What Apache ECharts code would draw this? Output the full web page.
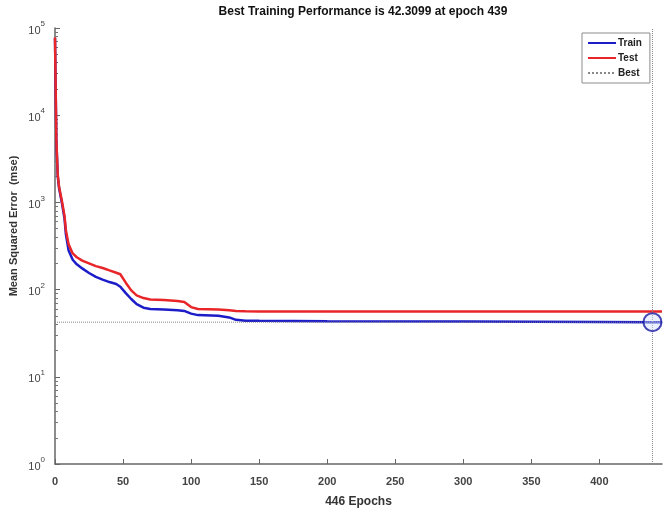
<!DOCTYPE html>
<html lang="en">
<head>
    <meta charset="UTF-8">
    <title>Best Training Performance</title>
    <script src="https://cdn.jsdelivr.net/npm/echarts@6/dist/echarts.min.js"></script>
</head>
<style>
    html,body{
        margin:0;
        padding:0;
        background:#fff;
    }
    #perf{
        width:668px;
        height:513px;
    }
</style>
<body>
<div id="perf"></div>
<script>
    // epochs, with train / test mse at each one
    var epochs   = [0, 1, 2, 3, 5, 7, 8, 10, 13, 16, 20, 25, 30, 35, 40, 45, 48, 52, 56, 60, 65, 70, 80, 90, 95, 100, 105, 120, 128, 133, 140, 150, 200, 300, 400, 439, 446];
    var trainMse = [77000, 5000, 2000, 1450, 1000, 650, 430, 280, 220, 195, 175, 155, 140, 130, 122, 116, 108, 91, 78, 68, 62, 60, 59, 58, 57, 53, 51, 50, 48, 45, 44, 43.8, 43.4, 43, 42.6, 42.31, 42.3];
    var testMse  = [78000, 5200, 2100, 1500, 1050, 700, 480, 330, 260, 235, 215, 200, 186, 177, 166, 156, 150, 120, 98, 86, 80, 77, 76, 74, 72, 63, 60, 59, 58, 57, 56.5, 56, 56, 56, 56, 56, 56];
    var bestEpoch = 439;
    var bestPerf = 42.3099;
    var yTicks = [1, 10, 100, 1000, 10000, 100000];
    var xTicks = [0, 50, 100, 150, 200, 250, 300, 350, 400];

    var font = 'Liberation Sans, Arial, sans-serif';

    function pairs(ys){
        var out = [];
        for (var i = 0; i < epochs.length; i++) {
            out.push([epochs[i], ys[i]]);
        }
        return out;
    }

    // minor ticks 2..9 of each decade
    var minor = [];
    for (var d = 0; d < yTicks.length - 1; d++) {
        for (var k = 2; k <= 9; k++) {
            minor.push(k * yTicks[d]);
        }
    }

    var myChart = echarts.init(document.getElementById('perf'));
    myChart.setOption({
        animation:false,
        title:{
            text:'Best Training Performance is ' + bestPerf + ' at epoch ' + bestEpoch,
            left:358,
            textAlign:'center',
            top:1,
            textStyle:{fontFamily:font, fontSize:12, fontWeight:'bold', color:'#111'}
        },
        grid:{left:55, right:6, top:28, bottom:49},
        legend:{
            data:['Train','Test','Best'],
            orient:'vertical',
            left:582,
            top:33,
            padding:[5,8,5,5],
            itemGap:5,
            itemWidth:28,
            itemHeight:11,
            borderColor:'#8c8c8c',
            borderWidth:1,
            backgroundColor:'#fff',
            align:'left',
            itemStyle:{opacity:0},
            textStyle:{fontFamily:font, fontSize:10, fontWeight:'bold', color:'#222', padding:[0,0,0,-3]}
        },
        graphic:[{
            type:'text',
            x:14,
            y:226,
            rotation:Math.PI / 2,
            style:{
                text:'Mean Squared Error  (mse)',
                fontFamily:font,
                fontSize:11,
                fontWeight:'bold',
                fill:'#333',
                align:'center',
                verticalAlign:'middle'
            }
        }],
        xAxis:{
            type:'value',
            min:0,
            max:446,
            interval:50,
            name:'446 Epochs',
            nameLocation:'middle',
            nameGap:32,
            nameTextStyle:{fontFamily:font, fontSize:12, fontWeight:'bold', color:'#333'},
            axisLine:{lineStyle:{color:'#666', width:1.5}},
            axisTick:{inside:true, length:5, lineStyle:{color:'#666'}, customValues:xTicks},
            axisLabel:{fontFamily:font, fontSize:11, color:'#444', margin:12, fontWeight:'bold', customValues:xTicks},
            splitLine:{show:false}
        },
        yAxis:[{
            type:'log',
            logBase:10,
            min:1,
            max:100000,
            axisLine:{show:true, lineStyle:{color:'#666', width:1.5}},
            axisTick:{inside:true, length:5, lineStyle:{color:'#666'}},
            axisLabel:{
                margin:10,
                formatter:function(v){
                    return '{b|10}{s|' + Math.round(Math.log10(v)) + '}';
                },
                rich:{
                    b:{fontFamily:font, fontSize:11, color:'#444', verticalAlign:'bottom', lineHeight:16},
                    s:{fontFamily:font, fontSize:8, color:'#444', verticalAlign:'top', lineHeight:16}
                }
            },
            splitLine:{show:false}
        },{
            type:'log',
            logBase:10,
            min:1,
            max:100000,
            position:'left',
            axisLine:{show:false},
            axisTick:{inside:true, length:3, lineStyle:{color:'#777'}, customValues:minor},
            axisLabel:{show:false},
            splitLine:{show:false}
        }],
        series:[{
            name:'Train',
            type:'line',
            data:pairs(trainMse),
            symbol:'none',
            lineStyle:{color:'#1c1cc8', width:2.5},
            itemStyle:{color:'#1c1cc8'}
        },{
            name:'Test',
            type:'line',
            data:pairs(testMse),
            symbol:'none',
            lineStyle:{color:'#e8262a', width:2.5},
            itemStyle:{color:'#e8262a'}
        },{
            name:'Best',
            type:'line',
            data:[[0, bestPerf], [446, bestPerf]],
            symbol:'none',
            lineStyle:{color:'#888', width:1, type:'dotted'},
            itemStyle:{color:'#888'}
        },{
            name:'Best',
            type:'line',
            data:[[bestEpoch, 1], [bestEpoch, 100000]],
            symbol:'none',
            lineStyle:{color:'#888', width:1, type:'dotted'},
            itemStyle:{color:'#888'}
        },{
            name:'bestPoint',
            type:'scatter',
            data:[[bestEpoch, bestPerf]],
            symbol:'circle',
            symbolSize:18,
            itemStyle:{color:'rgba(205,220,255,0.5)', borderColor:'#1a1aa0', borderWidth:2},
            z:5
        }]
    });
</script>
</body>
</html>
